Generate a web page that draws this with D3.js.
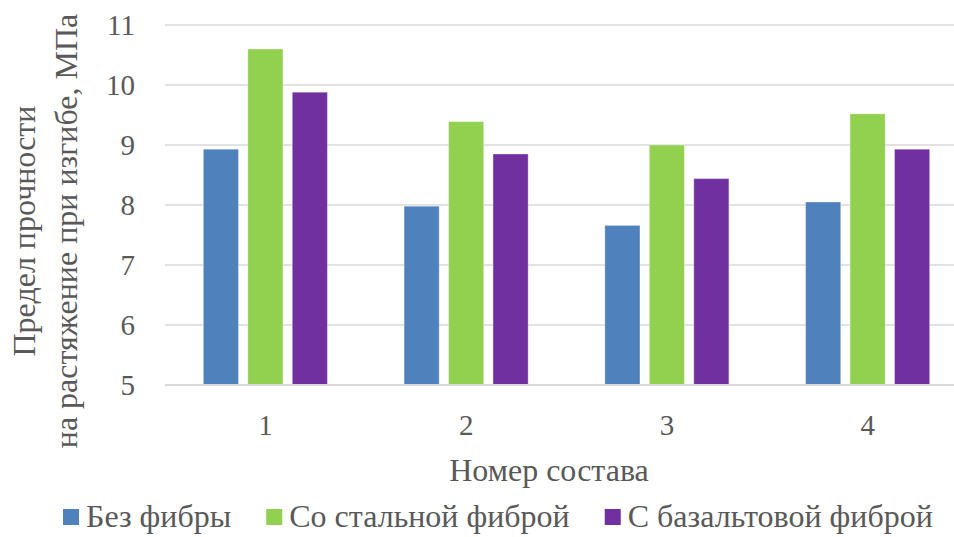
<!DOCTYPE html>
<html><head><meta charset="utf-8">
<script src="https://cdn.jsdelivr.net/npm/d3@7"></script>
<style>body{margin:0;background:#fff}svg{display:block}text{font-family:"Liberation Serif","Times New Roman",serif;fill:#595959}</style>
</head><body><svg id="c" width="954" height="537"></svg>
<script>
const categories = ["1","2","3","4"];
const seriesNames = ["Без фибры","Со стальной фиброй","С базальтовой фиброй"];
const noFiber = [8.93, 7.98, 7.66, 8.05];
const steelFiber = [10.6, 9.39, 9.0, 9.52];
const basaltFiber = [9.88, 8.85, 8.44, 8.93];
const yTicks = [5,6,7,8,9,10,11];
const colors = ["#4f81bd","#92d050","#7030a0"];
const series = [noFiber, steelFiber, basaltFiber];

(function(){
const svg = d3.select("#c");
const pL = 165, pR = 968, pT = 25, pB = 385;
const y = d3.scaleLinear().domain([5,11]).range([pB, pT]);
const x0 = d3.scaleBand().domain(categories).range([pL, pR]).paddingInner(0.382).paddingOuter(0.191);
const x1 = d3.scaleBand().domain(d3.range(3)).range([0, x0.bandwidth()]).paddingInner(0.21).paddingOuter(0);

svg.append("g").selectAll("line").data(yTicks).join("line")
  .attr("x1", pL).attr("x2", 954).attr("y1", d=>y(d)).attr("y2", d=>y(d))
  .attr("stroke", "#d9d9d9").attr("stroke-width", 1.5);

const g = svg.append("g");
categories.forEach((c, i) => {
  series.forEach((s, j) => {
    g.append("rect")
      .attr("x", x0(c) + x1(j)).attr("width", x1.bandwidth())
      .attr("y", y(s[i])).attr("height", y(5) - y(s[i]))
      .attr("fill", colors[j])
      .attr("stroke", "rgba(255,255,255,0.35)").attr("stroke-width", 1);
  });
});

svg.append("line").attr("x1", pL).attr("x2", 954).attr("y1", y(5)).attr("y2", y(5))
  .attr("stroke", "#d9d9d9").attr("stroke-width", 2);

const yAxis = d3.axisLeft(y).tickValues(yTicks).tickSize(0).tickPadding(0).tickFormat(d3.format("d"));
const ya = svg.append("g").attr("transform", "translate(135,0)").call(yAxis);
ya.select(".domain").remove();
ya.selectAll("text").style("font-size", "29px").style("font-family", '"Liberation Serif",serif').attr("fill", "#595959").attr("dy", "0.34em");

const xAxis = d3.axisBottom(x0).tickSize(0).tickPadding(0);
const xa = svg.append("g").attr("transform", "translate(0,435)").call(xAxis);
xa.select(".domain").remove();
xa.selectAll("text").style("font-size", "29px").style("font-family", '"Liberation Serif",serif').attr("fill", "#595959").attr("dy", 0);

svg.append("text").attr("x", 549).attr("y", 481).attr("text-anchor", "middle")
  .style("font-size", "32px").text("Номер состава");

const yt = svg.append("text").attr("transform", "translate(0,231) rotate(-90)").attr("text-anchor", "middle").style("font-size", "32px");
yt.append("tspan").attr("x", 0).attr("y", 35).text("Предел прочности");
yt.append("tspan").attr("x", 0).attr("y", 77).text("на растяжение при изгибе, МПа");

const lg = svg.append("g");
let cx = 63;
seriesNames.forEach((n, j) => {
  lg.append("rect").attr("x", cx).attr("y", 509).attr("width", 16).attr("height", 16).attr("fill", colors[j]);
  const t = lg.append("text").attr("x", cx + 23).attr("y", 527).style("font-size", "32px").text(n);
  cx += 23 + t.node().getComputedTextLength() + 35;
});
})();
</script></body></html>
